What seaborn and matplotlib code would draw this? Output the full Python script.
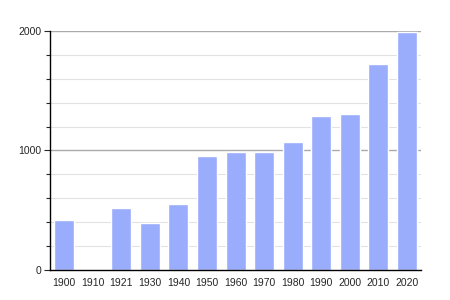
import matplotlib
matplotlib.use("Agg")
import matplotlib.pyplot as plt
import seaborn as sns
import pandas as pd
from matplotlib.ticker import MultipleLocator

years = ["1900", "1910", "1921", "1930", "1940", "1950", "1960", "1970",
         "1980", "1990", "2000", "2010", "2020"]
population = [418, 0, 517, 393, 552, 954, 987, 987, 1071, 1289, 1305, 1724, 1992]
yticks = [0, 1000, 2000]

df = pd.DataFrame({"year": years, "pop": population})

sns.set_style("white")
plt.rcParams['font.family'] = ['Liberation Sans', 'DejaVu Sans']

fig = plt.figure(figsize=(4.5, 3.0), dpi=100)
ax = fig.add_axes([0.111, 0.1, 0.825, 0.797])

for v in range(200, 2001, 200):
    major = v % 1000 == 0
    ax.axhline(v, color="#aaaaaa" if major else "#e2e2e2", lw=1.0 if major else 0.8, zorder=0)

sns.barplot(data=df, x="year", y="pop", order=years, color="#9aacfc",
            saturation=1, width=0.7, ax=ax, zorder=2)

ax.set_ylim(0, 2000)
ax.set_xlim(-0.5, len(years) - 0.5)
ax.set_yticks(yticks)
ax.set_yticklabels([str(t) for t in yticks])
ax.yaxis.set_minor_locator(MultipleLocator(200))
ax.set_xlabel("")
ax.set_ylabel("")
for s in ["top", "right"]:
    ax.spines[s].set_visible(False)
for s in ["left", "bottom"]:
    ax.spines[s].set_color("black")
    ax.spines[s].set_linewidth(1.0)
    ax.spines[s].set_zorder(3)
ax.tick_params(axis="y", which="major", left=True, length=4, width=0.8, labelsize=7.5, pad=2)
ax.tick_params(axis="y", which="minor", left=True, length=3, width=0.8)
ax.tick_params(axis="x", bottom=False, labelsize=7.5, pad=2)

fig.savefig("out.png", dpi=100)
